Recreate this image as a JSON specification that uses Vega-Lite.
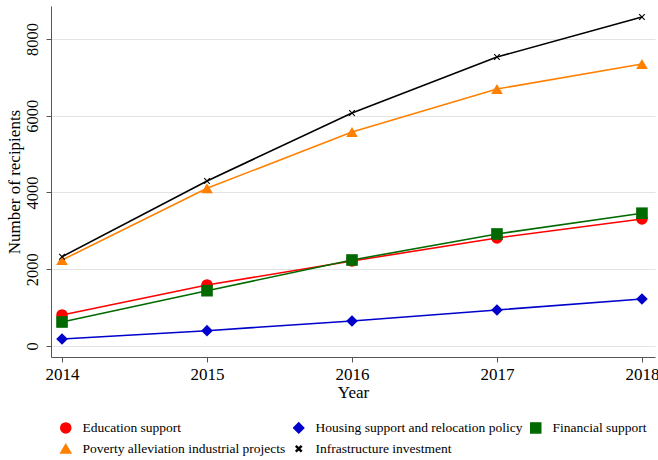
{
  "$schema": "https://vega.github.io/schema/vega-lite/v6.json",
  "autosize": "none",
  "width": 604,
  "height": 351,
  "padding": {"left": 51, "top": 6, "right": 3, "bottom": 103},
  "background": "white",
  "config": {
    "font": "Liberation Serif",
    "view": {"stroke": null},
    "axis": {"labelFont": "Liberation Serif", "titleFont": "Liberation Serif", "labelColor": "black", "titleColor": "black", "titleFontWeight": "normal", "domainColor": "#555555", "tickColor": "#555555"},
    "legend": {"orient": "none", "legendX": 8, "legendY": 415, "direction": "horizontal", "columns": 3, "title": null, "padding": 0, "labelFontSize": 13.5, "labelFont": "Liberation Serif", "labelColor": "black", "symbolSize": 100, "labelOffset": 10, "columnPadding": 4, "rowPadding": 5, "labelLimit": 400, "symbolType": "circle"}
  },
  "data": {
    "values": [
      {"year": 2014, "series": "Education support", "value": 808},
      {"year": 2015, "series": "Education support", "value": 1590},
      {"year": 2016, "series": "Education support", "value": 2215},
      {"year": 2017, "series": "Education support", "value": 2814},
      {"year": 2018, "series": "Education support", "value": 3310},
      {"year": 2014, "series": "Housing support and relocation policy", "value": 182},
      {"year": 2015, "series": "Housing support and relocation policy", "value": 399},
      {"year": 2016, "series": "Housing support and relocation policy", "value": 651},
      {"year": 2017, "series": "Housing support and relocation policy", "value": 938},
      {"year": 2018, "series": "Housing support and relocation policy", "value": 1225},
      {"year": 2014, "series": "Financial support", "value": 625},
      {"year": 2015, "series": "Financial support", "value": 1441},
      {"year": 2016, "series": "Financial support", "value": 2241},
      {"year": 2017, "series": "Financial support", "value": 2919},
      {"year": 2018, "series": "Financial support", "value": 3460},
      {"year": 2014, "series": "Poverty alleviation industrial projects", "value": 2240},
      {"year": 2015, "series": "Poverty alleviation industrial projects", "value": 4110},
      {"year": 2016, "series": "Poverty alleviation industrial projects", "value": 5577},
      {"year": 2017, "series": "Poverty alleviation industrial projects", "value": 6697},
      {"year": 2018, "series": "Poverty alleviation industrial projects", "value": 7349},
      {"year": 2014, "series": "Infrastructure investment", "value": 2327},
      {"year": 2015, "series": "Infrastructure investment", "value": 4300},
      {"year": 2016, "series": "Infrastructure investment", "value": 6072},
      {"year": 2017, "series": "Infrastructure investment", "value": 7531},
      {"year": 2018, "series": "Infrastructure investment", "value": 8573}
    ]
  },
  "encoding": {
    "x": {
      "field": "year", "type": "quantitative",
      "scale": {"domain": [2013.924, 2018.09], "nice": false, "zero": false},
      "axis": {"title": "Year", "values": [2014, 2015, 2016, 2017, 2018], "format": "d", "grid": false, "labelFontSize": 17, "titleFontSize": 17, "tickSize": 5, "labelPadding": 4, "titlePadding": 2, "labelFlush": false}
    },
    "y": {
      "field": "value", "type": "quantitative",
      "scale": {"domain": [-287, 8860], "nice": false, "zero": false},
      "axis": {"title": "Number of recipients", "values": [0, 2000, 4000, 6000, 8000], "format": "d", "grid": true, "gridColor": "#e3e3e3", "labelAngle": 270, "labelAlign": "center", "labelBaseline": "bottom", "labelFontSize": 16.5, "titleFontSize": 17, "tickSize": 5, "labelPadding": 6, "titlePadding": 1}
    },
    "color": {
      "field": "series", "type": "nominal",
      "scale": {
        "domain": ["Education support", "Housing support and relocation policy", "Financial support", "Poverty alleviation industrial projects", "Infrastructure investment"],
        "range": ["#ff0000", "#0000cc", "#006a00", "#ff8000", "#000000"]
      }
    }
  },
  "layer": [
    {
      "mark": {"type": "line", "strokeWidth": 1.6}
    },
    {
      "mark": {"type": "point", "filled": true, "opacity": 1},
      "encoding": {
        "shape": {
          "field": "series", "type": "nominal",
          "scale": {
            "domain": ["Education support", "Housing support and relocation policy", "Financial support", "Poverty alleviation industrial projects", "Infrastructure investment"],
            "range": ["circle", "diamond", "square", "triangle-up", "M-0.42,-0.55L0,-0.13L0.42,-0.55L0.55,-0.42L0.13,0L0.55,0.42L0.42,0.55L0,0.13L-0.42,0.55L-0.55,0.42L-0.13,0L-0.55,-0.42Z"]
          }
        },
        "size": {"value": 135}
      }
    }
  ]
}
